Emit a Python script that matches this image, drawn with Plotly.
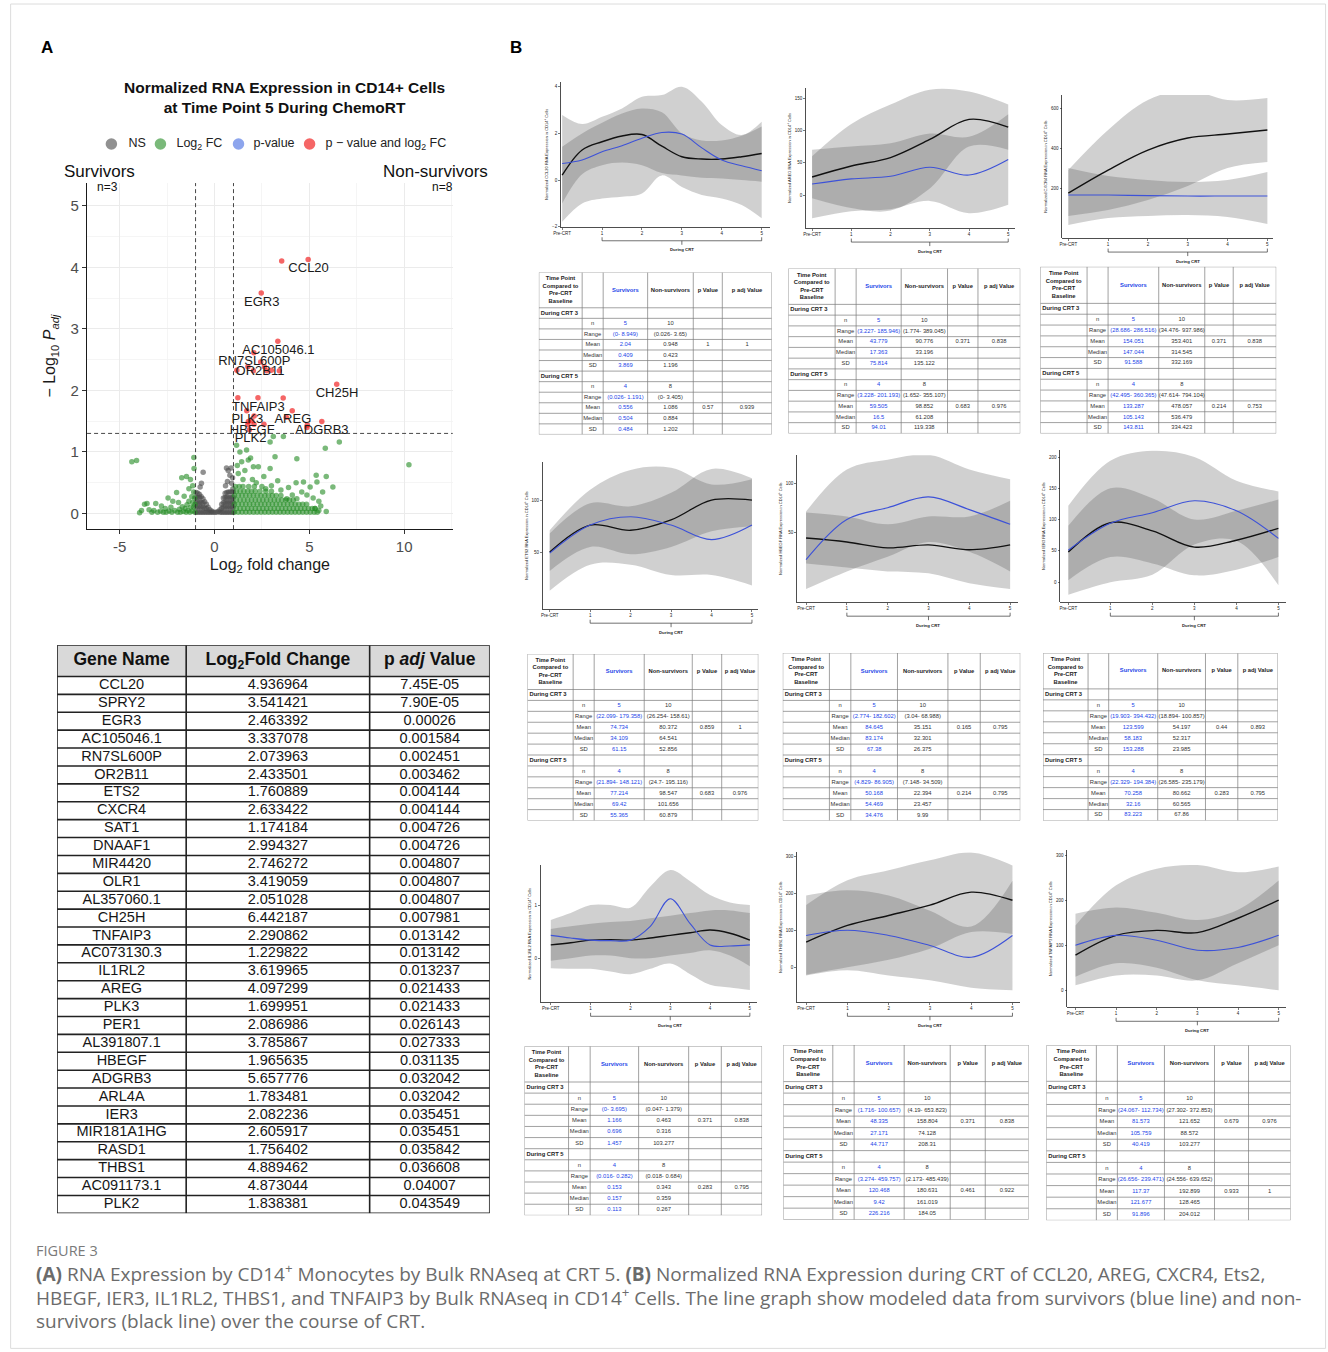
import math
import plotly.graph_objects as go

W, H = 1328, 1352
FONT = "Liberation Sans, Arial, Helvetica, sans-serif"
CAP_FONT = "Open Sans, Liberation Sans, Arial, sans-serif"

# ---------------- Panel A : significant genes (table + red points) ----------------
SIG_GENES = ["CCL20", "SPRY2", "EGR3", "AC105046.1", "RN7SL600P", "OR2B11", "ETS2", "CXCR4",
             "SAT1", "DNAAF1", "MIR4420", "OLR1", "AL357060.1", "CH25H", "TNFAIP3", "AC073130.3",
             "IL1RL2", "AREG", "PLK3", "PER1", "AL391807.1", "HBEGF", "ADGRB3", "ARL4A", "IER3",
             "MIR181A1HG", "RASD1", "THBS1", "AC091173.1", "PLK2"]
SIG_LOG2FC = [4.936964, 3.541421, 2.463392, 3.337078, 2.073963, 2.433501, 1.760889, 2.633422,
              1.174184, 2.994327, 2.746272, 3.419059, 2.051028, 6.442187, 2.290862, 1.229822,
              3.619965, 4.097299, 1.699951, 2.086986, 3.785867, 1.965635, 5.657776, 1.783481,
              2.082236, 2.605917, 1.756402, 4.889462, 4.873044, 1.838381]
SIG_PADJ = ["7.45E-05", "7.90E-05", "0.00026", "0.001584", "0.002451", "0.003462", "0.004144",
            "0.004144", "0.004726", "0.004726", "0.004807", "0.004807", "0.004807", "0.007981",
            "0.013142", "0.013142", "0.013237", "0.021433", "0.021433", "0.026143", "0.027333",
            "0.031135", "0.032042", "0.032042", "0.035451", "0.035451", "0.035842", "0.036608",
            "0.04007", "0.043549"]

LABEL_GENES = ["CCL20", "EGR3", "AC105046.1", "RN7SL600P", "OR2B11", "CH25H", "TNFAIP3",
               "PLK3", "AREG", "HBEGF", "ADGRB3", "PLK2"]
LABEL_X = [4.96, 2.49, 3.37, 2.10, 2.40, 6.46, 2.31, 1.73, 4.13, 1.99, 5.66, 1.90]
LABEL_Y = [3.97, 3.43, 2.64, 2.46, 2.30, 1.95, 1.72, 1.52, 1.52, 1.35, 1.34, 1.21]

LEGEND_LABELS = ["NS", "Log<sub>2</sub> FC", "p-value", "p \u2212 value and log<sub>2</sub> FC"]

# non-significant genes (grey)
NS_POINTS = [
    (-0.97, 0.02), (-0.97, 0.10), (-0.97, 0.18), (-0.97, 0.26), (-0.97, 0.34),
    (-0.88, 0.02), (-0.88, 0.10), (-0.88, 0.18), (-0.88, 0.26), (-0.88, 0.33),
    (-0.79, 0.02), (-0.79, 0.10), (-0.79, 0.18), (-0.79, 0.26), (-0.79, 0.31),
    (-0.70, 0.02), (-0.70, 0.10), (-0.70, 0.18), (-0.70, 0.27),
    (-0.61, 0.02), (-0.61, 0.10), (-0.61, 0.17), (-0.61, 0.24),
    (-0.52, 0.02), (-0.52, 0.09), (-0.52, 0.19),
    (-0.43, 0.02), (-0.43, 0.08), (-0.43, 0.15),
    (-0.34, 0.02), (-0.34, 0.10), (-0.25, 0.02), (-0.25, 0.06),
    (-0.16, 0.02), (-0.16, 0.04), (-0.07, 0.02), (0.02, 0.02), (0.11, 0.02), (0.20, 0.03),
    (0.29, 0.02), (0.29, 0.06), (0.38, 0.02), (0.38, 0.09), (0.38, 0.15),
    (0.47, 0.02), (0.47, 0.10), (0.47, 0.18), (0.47, 0.25),
    (0.56, 0.02), (0.56, 0.10), (0.56, 0.18), (0.56, 0.26), (0.56, 0.33),
    (0.65, 0.02), (0.65, 0.10), (0.65, 0.18), (0.65, 0.26), (0.65, 0.34),
    (0.74, 0.02), (0.74, 0.10), (0.74, 0.18), (0.74, 0.26), (0.74, 0.35),
    (0.83, 0.02), (0.83, 0.10), (0.83, 0.18), (0.83, 0.26), (0.83, 0.35),
    (0.92, 0.02), (0.92, 0.10), (0.92, 0.18), (0.92, 0.26), (0.92, 0.35),
    (0.99, 0.02), (0.99, 0.10), (0.99, 0.18), (0.99, 0.26), (0.99, 0.35),
    (-0.60, 0.67), (-0.69, 0.49), (-0.76, 0.43), (0.58, 0.45), (0.63, 0.74), (0.88, 0.74),
    (0.81, 0.62), (0.90, 0.49), (0.72, 0.70), (0.95, 0.58), (0.68, 0.52), (0.97, 0.40),
]

# genes passing only the fold-change cut-off (green)
FC_POINTS_LEFT = [
    (-4.36, 0.84), (-4.11, 0.86), (-3.95, 0.01), (-3.85, 0.05), (-3.69, 0.15), (-3.56, 0.16),
    (-3.45, 0.06), (-3.30, 0.02), (-3.20, 0.05), (-3.10, 0.16), (-3.00, 0.02), (-2.85, 0.04),
    (-2.80, 0.12), (-2.70, 0.02), (-2.60, 0.08), (-2.55, 0.02), (-2.45, 0.25), (-2.40, 0.04),
    (-2.30, 0.10), (-2.25, 0.02), (-2.20, 0.20), (-2.10, 0.05), (-2.00, 0.34), (-1.95, 0.02),
    (-1.90, 0.18), (-1.85, 0.07), (-1.80, 0.02), (-1.73, 0.58), (-1.70, 0.11), (-1.65, 0.03),
    (-1.60, 0.28), (-1.55, 0.08), (-1.50, 0.02), (-1.48, 0.60), (-1.45, 0.14), (-1.40, 0.05),
    (-1.35, 0.40), (-1.35, 0.20), (-1.30, 0.02), (-1.27, 0.55), (-1.25, 0.10), (-1.20, 0.27),
    (-1.18, 0.04), (-1.15, 0.45), (-1.15, 0.18), (-1.10, 0.35), (-1.10, 0.10), (-1.09, 0.91),
    (-1.08, 0.73), (-1.05, 0.25), (-1.04, 0.02), (-1.03, 0.15),
]
FC_BAND_ROWS = [
    (0.02, [1.05, 1.25, 1.45, 1.65, 1.85, 2.05, 2.25, 2.45, 2.65, 2.85, 3.05, 3.25, 3.45, 3.65,
            3.85, 4.05, 4.25, 4.45, 4.65, 4.85, 5.05, 5.25, 5.42]),
    (0.08, [1.15, 1.35, 1.55, 1.75, 1.95, 2.15, 2.35, 2.55, 2.75, 2.95, 3.15, 3.35, 3.55, 3.75,
            3.95, 4.15, 4.35, 4.55, 4.75, 4.95, 5.15, 5.30]),
    (0.15, [1.05, 1.25, 1.45, 1.65, 1.85, 2.05, 2.25, 2.45, 2.65, 2.85, 3.05, 3.25, 3.45, 3.65,
            3.85, 4.05, 4.25, 4.45, 4.65, 4.85]),
    (0.22, [1.15, 1.35, 1.55, 1.75, 1.95, 2.15, 2.35, 2.55, 2.75, 2.95, 3.15, 3.35, 3.55, 3.75,
            3.95, 4.15]),
    (0.29, [1.05, 1.25, 1.45, 1.65, 1.85, 2.05, 2.25, 2.45, 2.65, 2.85, 3.05, 3.25, 3.50]),
    (0.36, [1.15, 1.35, 1.55, 1.75, 1.95, 2.15, 2.40, 2.70, 3.00]),
    (0.44, [1.10, 1.30, 1.50, 1.80, 2.10, 2.50]),
]
FC_POINTS_RIGHT = [
    (1.34, 1.00), (1.69, 1.03), (1.16, 1.11), (3.10, 1.25), (3.63, 1.25), (2.93, 1.16),
    (3.19, 0.92), (4.34, 0.89), (5.84, 1.06), (6.58, 1.16), (10.25, 0.79), (6.24, 0.43),
    (5.89, 0.60), (5.36, 0.62), (5.89, 0.03), (5.04, 0.43), (4.87, 0.30), (2.93, 0.73),
    (2.31, 0.76), (2.05, 0.76), (1.78, 0.87), (1.43, 0.84), (3.33, 0.53), (3.81, 0.24),
    (4.34, 0.24), (4.69, 0.51), (5.40, 0.51), (5.70, 0.35), (1.60, 0.70), (1.25, 0.65),
    (2.00, 0.55), (2.60, 0.60), (1.90, 0.90), (1.50, 0.55), (2.20, 0.50), (3.00, 0.45),
    (3.50, 0.38), (4.10, 0.30), (4.60, 0.35), (5.20, 0.25), (5.60, 0.12), (5.50, 0.20),
    (2.70, 0.40), (1.20, 0.78), (4.30, 0.50), (3.90, 0.42), (5.30, 0.08), (5.50, 0.05),
]

# ---------------- Panel B : modelled expression curves ----------------
X11 = [0, 0.5, 1, 1.5, 2, 2.5, 3, 3.5, 4, 4.5, 5]
X6 = [0, 1, 2, 3, 4, 5]

CCL20_NS = [0.21, 1.29, 1.64, 1.89, 1.95, 1.45, 1.0, 0.9, 0.9, 1.0, 1.14]
CCL20_S = [0.71, 0.86, 1.21, 1.47, 1.79, 2.04, 1.97, 1.38, 0.86, 0.61, 0.40]
CCL20_NS_LO = [-1.0, 0.25, 0.64, 0.75, 0.64, 0.3, 0.2, 0.1, 0.07, 0.0, -0.07]
CCL20_NS_HI = [1.43, 2.0, 2.45, 2.85, 3.07, 2.9, 2.0, 1.7, 1.7, 1.9, 2.3]
CCL20_S_LO = [-1.79, -1.0, -0.79, -0.71, -0.57, 0.2, -0.3, -0.64, -0.79, -1.07, -1.64]
CCL20_S_HI = [2.79, 2.4, 2.71, 3.07, 3.57, 3.64, 4.0, 3.36, 2.36, 1.93, 2.5]

AREG_NS = [28, 45, 58, 86, 117, 105]
AREG_S = [17, 25, 29, 43, 31, 55]
AREG_NS_LO = [-5, -20, -24, 10, 75, 70]
AREG_NS_HI = [60, 110, 140, 163, 160, 140]
AREG_S_LO = [-36, -25, -22, -9, -28, -15]
AREG_S_HI = [70, 75, 80, 95, 90, 125]

CXCR4_NS = [175, 290, 390, 450, 470, 490]
CXCR4_S = [165, 165, 162, 160, 160, 160]
CXCR4_NS_LO = [60, 90, 140, 210, 300, 330]
CXCR4_NS_HI = [290, 490, 640, 690, 640, 650]
CXCR4_S_LO = [15, 50, 60, 65, 55, 20]
CXCR4_S_HI = [300, 260, 240, 230, 240, 280]

ETS2_NS = [50, 76, 71, 81, 100, 100]
ETS2_S = [49, 76, 84, 76, 62, 76]
ETS2_NS_LO = [32, 55, 48, 55, 70, 75]
ETS2_NS_HI = [68, 97, 94, 107, 130, 121]
ETS2_S_LO = [13, 38, 38, 28, 28, 18]
ETS2_S_HI = [71, 110, 129, 131, 115, 120]

HBEGF_NS = [44, 40, 34, 37, 32, 37]
HBEGF_S = [22, 63, 75, 86, 73, 58]
HBEGF_NS_LO = [18, 14, 10, 8, -2, -8]
HBEGF_NS_HI = [70, 66, 58, 66, 66, 82]
HBEGF_S_LO = [-8, 10, 25, 40, 30, 10]
HBEGF_S_HI = [71, 114, 124, 129, 114, 104]

IER3_NS = [48, 95, 82, 56, 67, 86]
IER3_S = [51, 94, 111, 130, 114, 70]
IER3_NS_LO = [3, 40, 30, 11, 20, 40]
IER3_NS_HI = [90, 150, 134, 100, 114, 132]
IER3_S_LO = [-20, 0, 12, 60, 66, -5]
IER3_S_HI = [122, 194, 210, 200, 162, 145]

IL1RL2_NS = [0.25, 0.29, 0.34, 0.35, 0.34, 0.38, 0.43, 0.48, 0.53, 0.47, 0.34]
IL1RL2_S = [0.43, 0.38, 0.34, 0.33, 0.34, 0.6, 1.12, 0.65, 0.25, 0.23, 0.25]
IL1RL2_NS_LO = [-0.05, 0.0, 0.05, 0.05, 0.0, 0.0, 0.05, 0.1, 0.15, 0.05, -0.15]
IL1RL2_NS_HI = [0.55, 0.6, 0.65, 0.68, 0.7, 0.75, 0.8, 0.85, 0.9, 0.9, 0.85]
IL1RL2_S_LO = [-0.19, -0.2, -0.2, -0.25, -0.3, -0.2, -0.1, -0.3, -0.5, -0.55, -0.6]
IL1RL2_S_HI = [0.72, 0.85, 1.0, 1.0, 0.95, 1.35, 1.66, 1.45, 1.19, 1.05, 1.0]

THBS1_NS = [68, 113, 140, 168, 203, 181]
THBS1_S = [86, 100, 86, 59, 27, 86]
THBS1_NS_LO = [-20, 0, 20, 50, 95, 90]
THBS1_NS_HI = [168, 235, 262, 289, 310, 275]
THBS1_S_LO = [-22, -8, -22, -35, -55, -62]
THBS1_S_HI = [194, 208, 194, 153, 110, 234]

TNFAIP3_NS = [78, 122, 133, 128, 160, 200]
TNFAIP3_S = [100, 122, 111, 89, 95, 122]
TNFAIP3_NS_LO = [11, 33, 33, 22, 60, 100]
TNFAIP3_NS_HI = [144, 233, 270, 278, 262, 275]
TNFAIP3_S_LO = [30, 60, 50, 22, 11, 0]
TNFAIP3_S_HI = [170, 184, 172, 156, 179, 244]

X_TICK_TEXT = ["Pre-CRT", "1", "2", "3", "4", "5"]

# ---------------- Panel B : statistics tables ----------------
# [n, range, mean, median, SD] for survivors (S) / non-survivors (N); P = [p, p adj]
CCL20_S3 = ["5", "(0- 8.949)", "2.04", "0.409", "3.869"]
CCL20_N3 = ["10", "(0.026- 3.65)", "0.948", "0.423", "1.196"]
CCL20_P3 = ["1", "1"]
CCL20_S5 = ["4", "(0.026- 1.191)", "0.556", "0.504", "0.484"]
CCL20_N5 = ["8", "(0- 3.405)", "1.086", "0.884", "1.202"]
CCL20_P5 = ["0.57", "0.939"]

AREG_S3 = ["5", "(3.227- 185.946)", "43.779", "17.363", "75.814"]
AREG_N3 = ["10", "(1.774- 389.045)", "90.776", "33.196", "135.122"]
AREG_P3 = ["0.371", "0.838"]
AREG_S5 = ["4", "(3.228- 201.193)", "59.505", "16.5", "94.01"]
AREG_N5 = ["8", "(1.652- 355.107)", "98.852", "61.208", "119.338"]
AREG_P5 = ["0.683", "0.976"]

CXCR4_S3 = ["5", "(28.686- 286.516)", "154.051", "147.044", "91.588"]
CXCR4_N3 = ["10", "(34.476- 937.986)", "353.401", "314.545", "332.169"]
CXCR4_P3 = ["0.371", "0.838"]
CXCR4_S5 = ["4", "(42.495- 360.365)", "133.287", "105.143", "143.811"]
CXCR4_N5 = ["8", "(47.614- 794.104)", "478.057", "536.479", "334.423"]
CXCR4_P5 = ["0.214", "0.753"]

ETS2_S3 = ["5", "(22.099- 179.358)", "74.734", "34.109", "61.15"]
ETS2_N3 = ["10", "(26.254- 158.61)", "80.372", "64.541", "52.856"]
ETS2_P3 = ["0.859", "1"]
ETS2_S5 = ["4", "(21.894- 148.121)", "77.214", "69.42", "55.365"]
ETS2_N5 = ["8", "(24.7- 195.116)", "98.547", "101.656", "60.879"]
ETS2_P5 = ["0.683", "0.976"]

HBEGF_S3 = ["5", "(2.774- 182.602)", "84.645", "83.174", "67.38"]
HBEGF_N3 = ["10", "(3.04- 68.988)", "35.151", "32.301", "26.375"]
HBEGF_P3 = ["0.165", "0.795"]
HBEGF_S5 = ["4", "(4.829- 86.905)", "50.168", "54.469", "34.476"]
HBEGF_N5 = ["8", "(7.148- 34.509)", "22.394", "23.457", "9.99"]
HBEGF_P5 = ["0.214", "0.795"]

IER3_S3 = ["5", "(19.903- 394.432)", "123.599", "58.183", "153.288"]
IER3_N3 = ["10", "(18.894- 100.857)", "54.197", "52.317", "23.985"]
IER3_P3 = ["0.44", "0.893"]
IER3_S5 = ["4", "(22.329- 194.384)", "70.258", "32.16", "83.223"]
IER3_N5 = ["8", "(26.585- 235.179)", "80.662", "60.565", "67.86"]
IER3_P5 = ["0.283", "0.795"]

IL1RL2_S3 = ["5", "(0- 3.695)", "1.166", "0.696", "1.457"]
IL1RL2_N3 = ["10", "(0.047- 1.379)", "0.463", "0.316", "103.277"]
IL1RL2_P3 = ["0.371", "0.838"]
IL1RL2_S5 = ["4", "(0.016- 0.282)", "0.153", "0.157", "0.113"]
IL1RL2_N5 = ["8", "(0.018- 0.684)", "0.343", "0.359", "0.267"]
IL1RL2_P5 = ["0.283", "0.795"]

THBS1_S3 = ["5", "(1.716- 100.657)", "48.335", "27.171", "44.717"]
THBS1_N3 = ["10", "(4.19- 653.823)", "158.804", "74.128", "208.31"]
THBS1_P3 = ["0.371", "0.838"]
THBS1_S5 = ["4", "(3.274- 459.757)", "120.468", "9.42", "226.216"]
THBS1_N5 = ["8", "(2.173- 485.439)", "180.631", "161.019", "184.05"]
THBS1_P5 = ["0.461", "0.922"]

TNFAIP3_S3 = ["5", "(24.067- 112.734)", "81.573", "105.759", "40.419"]
TNFAIP3_N3 = ["10", "(27.302- 372.853)", "121.652", "88.572", "103.277"]
TNFAIP3_P3 = ["0.679", "0.976"]
TNFAIP3_S5 = ["4", "(26.656- 239.471)", "117.37", "121.677", "91.896"]
TNFAIP3_N5 = ["8", "(24.556- 639.652)", "192.899", "128.465", "204.012"]
TNFAIP3_P5 = ["0.933", "1"]

STAT_ROW_LABELS = ["n", "Range", "Mean", "Median", "SD"]

# =====================================================================
fig = go.Figure()
axes = {}
shapes = []
annotations = []

# layout helpers: positions given in reference-picture pixels, mapped onto the page
OFFX, SX, SY = 8.7, 0.993, 0.9975


def fx(v):
    return (v - OFFX) / SX


def fy(v):
    return v / SY


def xd(a, b):
    return [max(0.0, fx(a) / W), min(1.0, fx(b) / W)]


def yd(top, bot):
    return [max(0.0, 1 - fy(bot) / H), min(1.0, 1 - fy(top) / H)]


def pxx(v):
    return fx(v) / W


def pxy(v):
    return 1 - fy(v) / H


def names(i):
    return ("x", "y") if i == 1 else (f"x{i}", f"y{i}")


def set_axes(i, xdom, ydom, xcfg, ycfg):
    xn, yn = names(i)
    axes["xaxis" if i == 1 else f"xaxis{i}"] = dict(xcfg, domain=xdom, anchor=yn)
    axes["yaxis" if i == 1 else f"yaxis{i}"] = dict(ycfg, domain=ydom, anchor=xn)


def note(text, x, y, size, color="#111", xanchor="center", family=None, **kw):
    f = dict(size=size, color=color)
    if family:
        f["family"] = family
    annotations.append(dict(text=text, x=pxx(x), y=pxy(y), xref="paper", yref="paper",
                            showarrow=False, xanchor=xanchor, yanchor="middle", font=f, **kw))


# ---------------- volcano plot ----------------
set_axes(
    1, xd(87.7, 453), yd(183, 529),
    dict(range=[-6.72, 12.56], tickvals=[-5, 0, 5, 10], ticktext=["-5", "0", "5", "10"],
         showgrid=True, gridcolor="#ebebeb", gridwidth=1,
         minor=dict(tickvals=[-2.5, 2.5, 7.5, 12.5], showgrid=True, gridcolor="#f3f3f3", gridwidth=0.8),
         zeroline=False, showline=True, linecolor="#1a1a1a", linewidth=1.3, ticks="outside",
         ticklen=4, tickcolor="#333", tickwidth=1, tickfont=dict(size=15, color="#4d4d4d"),
         title=dict(text="Log<sub>2</sub> fold change", font=dict(size=16, color="#1a1a1a"), standoff=4)),
    dict(range=[-0.255, 5.37], tickvals=[0, 1, 2, 3, 4, 5],
         showgrid=True, gridcolor="#ebebeb", gridwidth=1,
         minor=dict(tickvals=[0.5, 1.5, 2.5, 3.5, 4.5], showgrid=True, gridcolor="#f3f3f3", gridwidth=0.8),
         zeroline=False, showline=True, linecolor="#1a1a1a", linewidth=1.3, ticks="outside",
         ticklen=4, tickcolor="#333", tickwidth=1, tickfont=dict(size=15, color="#4d4d4d"),
         title=dict(text="\u2212 Log<sub>10</sub> <i>P</i><sub><i>adj</i></sub>",
                    font=dict(size=16, color="#1a1a1a"), standoff=10)),
)

fc_x = [p[0] for p in FC_POINTS_LEFT] + [x for y, xs in FC_BAND_ROWS for x in xs] + [p[0] for p in FC_POINTS_RIGHT]
fc_y = [p[1] for p in FC_POINTS_LEFT] + [y for y, xs in FC_BAND_ROWS for x in xs] + [p[1] for p in FC_POINTS_RIGHT]

COL_NS = "rgba(77,77,77,0.62)"
COL_FC = "rgba(34,139,34,0.6)"
COL_P = "rgba(65,105,225,0.6)"
COL_BOTH = "rgba(238,0,0,0.6)"

fig.add_trace(go.Scatter(x=[p[0] for p in NS_POINTS], y=[p[1] for p in NS_POINTS], mode="markers",
                         name="NS", marker=dict(size=5.5, color=COL_NS),
                         xaxis="x", yaxis="y", hoverinfo="skip"))
fig.add_trace(go.Scatter(x=fc_x, y=fc_y, mode="markers", name="Log2 FC",
                         marker=dict(size=5.5, color=COL_FC),
                         xaxis="x", yaxis="y", hoverinfo="skip"))
fig.add_trace(go.Scatter(x=SIG_LOG2FC, y=[-math.log10(float(p)) for p in SIG_PADJ], mode="markers",
                         name="p-value and log2 FC", marker=dict(size=5.5, color=COL_BOTH),
                         xaxis="x", yaxis="y", hoverinfo="skip"))
fig.add_trace(go.Scatter(x=LABEL_X, y=LABEL_Y, mode="text", text=LABEL_GENES,
                         textfont=dict(size=13, color="#1a1a1a", family=FONT),
                         textposition="middle center", xaxis="x", yaxis="y",
                         hoverinfo="skip", cliponaxis=False))

FC_CUT = 1.0
P_CUT = 0.05
for xv in (-FC_CUT, FC_CUT):
    shapes.append(dict(type="line", xref="x", yref="y domain", x0=xv, x1=xv, y0=0, y1=1,
                       line=dict(color="#333", width=0.9, dash="4px,3px")))
shapes.append(dict(type="line", xref="x domain", yref="y", x0=0, x1=1,
                   y0=-math.log10(P_CUT), y1=-math.log10(P_CUT),
                   line=dict(color="#333", width=0.9, dash="4px,3px")))

# legend key (drawn on its own hidden axis, in picture pixels)
LEG_I = 21
set_axes(LEG_I, xd(95, 460), yd(134, 154),
         dict(visible=False, range=[95, 460], fixedrange=True),
         dict(visible=False, range=[154, 134], fixedrange=True))
LEG_DOT_X = [112, 161, 239, 310]
LEG_TXT_X = [129, 177, 254, 326]
fig.add_trace(go.Scatter(x=LEG_DOT_X, y=[144] * 4, mode="markers",
                         marker=dict(size=11.5, color=[COL_NS, COL_FC, COL_P, COL_BOTH]),
                         xaxis=f"x{LEG_I}", yaxis=f"y{LEG_I}", hoverinfo="skip", cliponaxis=False))
fig.add_trace(go.Scatter(x=LEG_TXT_X, y=[144] * 4, mode="text", text=LEGEND_LABELS,
                         textposition="middle right", textfont=dict(size=12.5, color="#222", family=FONT),
                         xaxis=f"x{LEG_I}", yaxis=f"y{LEG_I}", hoverinfo="skip", cliponaxis=False))

note("<b>Normalized RNA Expression in CD14+ Cells</b><br><b>at Time Point 5 During ChemoRT</b>",
     285, 97, 15.5, align="center")
note("Survivors", 63, 171, 17, xanchor="left")
note("Non-survivors", 490, 171, 17, xanchor="right")
note("n=3", 108, 187, 12)
note("n=8", 443, 187, 12)
note("<b>A</b>", 48, 47, 17, "#000")
note("<b>B</b>", 516, 47, 17, "#000")

# ---------------- small line charts ----------------
BAND = "rgba(80,80,80,0.27)"
LINE_BLUE = "#3d52d8"

PANELS = [
    ("CCL20", (561, 770, 82, 226.7), [-0.033, 5.21], [-2, 4.2], [-2, 0, 2, 4], X11,
     CCL20_NS, CCL20_S, CCL20_NS_LO, CCL20_NS_HI, CCL20_S_LO, CCL20_S_HI),
    ("AREG", (806, 1015, 88, 228), [-0.153, 5.18], [-51, 165.5], [0, 50, 100, 150], X6,
     AREG_NS, AREG_S, AREG_NS_LO, AREG_NS_HI, AREG_S_LO, AREG_S_HI),
    ("CXCR4", (1062, 1272, 95, 238), [-0.15, 5.13], [-50, 665], [200, 400, 600], X6,
     CXCR4_NS, CXCR4_S, CXCR4_NS_LO, CXCR4_NS_HI, CXCR4_S_LO, CXCR4_S_HI),
    ("ETS2", (543, 758, 462, 609), [-0.17, 5.15], [-4.8, 136.5], [50, 100], X6,
     ETS2_NS, ETS2_S, ETS2_NS_LO, ETS2_NS_HI, ETS2_S_LO, ETS2_S_HI),
    ("HBEGF", (797, 1018, 455, 602), [-0.22, 5.2], [-21.4, 128.6], [50, 100], X6,
     HBEGF_NS, HBEGF_S, HBEGF_NS_LO, HBEGF_NS_HI, HBEGF_S_LO, HBEGF_S_HI),
    ("IER3", (1060, 1285, 450, 602), [-0.19, 5.17], [-32, 211], [0, 50, 100, 150, 200], X6,
     IER3_NS, IER3_S, IER3_NS_LO, IER3_NS_HI, IER3_S_LO, IER3_S_HI),
    ("IL1RL2", (541, 757, 865, 1002), [-0.25, 5.18], [-0.83, 1.75], [0, 1], X11,
     IL1RL2_NS, IL1RL2_S, IL1RL2_NS_LO, IL1RL2_NS_HI, IL1RL2_S_LO, IL1RL2_S_HI),
    ("THBS1", (797, 1020, 852, 1002), [-0.22, 5.19], [-94.6, 310.8], [0, 100, 200, 300], X6,
     THBS1_NS, THBS1_S, THBS1_NS_LO, THBS1_NS_HI, THBS1_S_LO, THBS1_S_HI),
    ("TNFAIP3", (1067, 1285, 850, 1007), [-0.2, 5.17], [-37.8, 311], [0, 100, 200, 300], X6,
     TNFAIP3_NS, TNFAIP3_S, TNFAIP3_NS_LO, TNFAIP3_NS_HI, TNFAIP3_S_LO, TNFAIP3_S_HI),
]

small_ax = dict(showline=True, linecolor="#222", linewidth=0.8, ticks="outside", ticklen=2,
                tickwidth=0.6, tickcolor="#222", tickfont=dict(size=4.5, color="#222"),
                showgrid=False, zeroline=False)

for k, (gene, box, xr, yr, yt, X, ns, s, ns_lo, ns_hi, s_lo, s_hi) in enumerate(PANELS):
    i = 2 + k
    xn, yn = names(i)
    x0, x1, ytop, ybot = box
    set_axes(i, xd(x0, x1), yd(ytop, ybot),
             dict(small_ax, range=xr, tickvals=list(range(6)), ticktext=X_TICK_TEXT),
             dict(small_ax, range=yr, tickvals=yt,
                  title=dict(text=f"Normalized {gene} RNA Expression in CD14<sup>+</sup> Cells",
                             font=dict(size=4, color="#222"), standoff=3)))
    for lo, hi in ((s_lo, s_hi), (ns_lo, ns_hi)):
        fig.add_trace(go.Scatter(x=X, y=lo, mode="lines", line=dict(width=0, shape="spline"),
                                 xaxis=xn, yaxis=yn, hoverinfo="skip"))
        fig.add_trace(go.Scatter(x=X, y=hi, mode="lines", line=dict(width=0, shape="spline"),
                                 fill="tonexty", fillcolor=BAND,
                                 xaxis=xn, yaxis=yn, hoverinfo="skip"))
    fig.add_trace(go.Scatter(x=X, y=ns, mode="lines", line=dict(color="#111", width=1.4, shape="spline"),
                             xaxis=xn, yaxis=yn, hoverinfo="skip"))
    fig.add_trace(go.Scatter(x=X, y=s, mode="lines", line=dict(color=LINE_BLUE, width=1.1, shape="spline"),
                             xaxis=xn, yaxis=yn, hoverinfo="skip"))
    # "During CRT" bracket under ticks 1..5
    yb = ybot + 14
    br = dict(color="#333", width=0.7)
    shapes.append(dict(type="line", xref=xn, yref="paper", x0=1, x1=5, y0=pxy(yb), y1=pxy(yb), line=br))
    shapes.append(dict(type="line", xref=xn, yref="paper", x0=1, x1=1, y0=pxy(yb), y1=pxy(yb - 3.5), line=br))
    shapes.append(dict(type="line", xref=xn, yref="paper", x0=5, x1=5, y0=pxy(yb), y1=pxy(yb - 3.5), line=br))
    shapes.append(dict(type="line", xref=xn, yref="paper", x0=3, x1=3, y0=pxy(yb), y1=pxy(yb + 4), line=br))
    annotations.append(dict(text="<b>During CRT</b>", x=3, xref=xn, y=pxy(yb + 9), yref="paper",
                            xanchor="center", yanchor="middle",
                            showarrow=False, font=dict(size=4.3, color="#222")))


# ---------------- tables ----------------
def add_table(i, cols, top, hbot, bot, header, header_colors, body, body_colors,
              fs, hfs, lc, lw, left_cols=(), header_fill=None):
    xn, yn = names(i)
    set_axes(i, xd(cols[0], cols[-1]), yd(top, bot),
             dict(visible=False, range=[cols[0], cols[-1]], fixedrange=True),
             dict(visible=False, range=[bot, top], fixedrange=True))
    n = len(body)
    rh = (bot - hbot) / n
    edges = [top, hbot] + [hbot + rh * (r + 1) for r in range(n)]
    if header_fill:
        shapes.append(dict(type="rect", xref=xn, yref=yn, x0=cols[0], x1=cols[-1], y0=top, y1=hbot,
                           fillcolor=header_fill, line=dict(width=0), layer="below"))
    gx, gy = [], []
    for e in edges:
        gx += [cols[0], cols[-1], None]
        gy += [e, e, None]
    for c in cols:
        gx += [c, c, None]
        gy += [top, bot, None]
    fig.add_trace(go.Scatter(x=gx, y=gy, mode="lines", line=dict(color=lc, width=lw),
                             xaxis=xn, yaxis=yn, hoverinfo="skip", cliponaxis=False))
    centers = [(cols[c] + cols[c + 1]) / 2 for c in range(len(cols) - 1)]
    tx, ty, tt, tc, tp, ts = [], [], [], [], [], []
    for c, h in enumerate(header):
        if h:
            tx.append(centers[c]); ty.append((top + hbot) / 2); tt.append(h)
            tc.append(header_colors[c]); tp.append("middle center"); ts.append(hfs)
    for r, row in enumerate(body):
        yc = hbot + rh * (r + 0.5)
        for c, v in enumerate(row):
            if v == "":
                continue
            if c in left_cols:
                tx.append(cols[c] + 2); tp.append("middle right")
            else:
                tx.append(centers[c]); tp.append("middle center")
            ty.append(yc); tt.append(v); tc.append(body_colors[c]); ts.append(fs)
    fig.add_trace(go.Scatter(x=tx, y=ty, mode="text", text=tt, textposition=tp,
                             textfont=dict(size=ts, color=tc, family=FONT),
                             xaxis=xn, yaxis=yn, hoverinfo="skip", cliponaxis=False))


# Table A
add_table(11, [57.7, 186.7, 370, 490], 645, 676.3, 1213,
          ["<b>Gene Name</b>", "<b>Log<sub>2</sub>Fold Change</b>", "<b>p <i>adj</i> Value</b>"],
          ["#111", "#111", "#111"],
          [[g, f"{v:.6f}", p] for g, v, p in zip(SIG_GENES, SIG_LOG2FC, SIG_PADJ)],
          ["#161616", "#161616", "#161616"], 14.5, 17.5, "#222", 1.6, header_fill="#d9d9d9")

BLUE_TXT = "#2446e8"
SMALL_HEADER = ["<b>Time Point</b><br><b>Compared to</b><br><b>Pre-CRT</b><br><b>Baseline</b>", "",
                "<b>Survivors</b>", "<b>Non-survivors</b>", "<b>p Value</b>", "<b>p adj Value</b>"]
SMALL_HEADER_COLORS = ["#222", "#222", BLUE_TXT, "#222", "#222", "#222"]
SMALL_BODY_COLORS = ["#222", "#333", BLUE_TXT, "#333", "#333", "#333"]


def stat_rows(s3, n3, p3, s5, n5, p5):
    rows = []
    for title, s, nn, p in (("<b>During CRT 3</b>", s3, n3, p3), ("<b>During CRT 5</b>", s5, n5, p5)):
        rows.append([title, "", "", "", "", ""])
        for j, lab in enumerate(STAT_ROW_LABELS):
            pv = p if lab == "Mean" else ["", ""]
            rows.append(["", lab, s[j], nn[j], pv[0], pv[1]])
    return rows


SMALL_TABLES = [
    ([539, 582.3, 603.3, 647.7, 693.3, 722.3, 771.7], 272.3, 307.7, 434.3,
     stat_rows(CCL20_S3, CCL20_N3, CCL20_P3, CCL20_S5, CCL20_N5, CCL20_P5)),
    ([788.3, 835, 856, 901, 947.3, 977.7, 1020], 268.3, 304.3, 433.3,
     stat_rows(AREG_S3, AREG_N3, AREG_P3, AREG_S5, AREG_N5, AREG_P5)),
    ([1040, 1086.7, 1107.7, 1158.3, 1204.3, 1232.7, 1275.7], 266.7, 303.3, 433.3,
     stat_rows(CXCR4_S3, CXCR4_N3, CXCR4_P3, CXCR4_S5, CXCR4_N5, CXCR4_P5)),
    ([527.7, 573.3, 594.3, 644.3, 692.3, 721.7, 758.3], 653.7, 689.3, 820.3,
     stat_rows(ETS2_S3, ETS2_N3, ETS2_P3, ETS2_S5, ETS2_N5, ETS2_P5)),
    ([782.7, 829.3, 850.7, 897.3, 947.7, 980, 1020], 652.7, 689.3, 820.3,
     stat_rows(HBEGF_S3, HBEGF_N3, HBEGF_P3, HBEGF_S5, HBEGF_N5, HBEGF_P5)),
    ([1042.7, 1087.7, 1108.3, 1157.3, 1205, 1237.3, 1277.3], 653, 688.7, 820.3,
     stat_rows(IER3_S3, IER3_N3, IER3_P3, IER3_S5, IER3_N5, IER3_P5)),
    ([524.7, 568.7, 590.3, 638.7, 688.7, 721.3, 762], 1046, 1081.7, 1215,
     stat_rows(IL1RL2_S3, IL1RL2_N3, IL1RL2_P3, IL1RL2_S5, IL1RL2_N5, IL1RL2_P5)),
    ([783.3, 832.7, 854, 904, 950, 985, 1028.3], 1044.7, 1081.3, 1219.3,
     stat_rows(THBS1_S3, THBS1_N3, THBS1_P3, THBS1_S5, THBS1_N5, THBS1_P5)),
    ([1046, 1096, 1117, 1164, 1214, 1248, 1290], 1045, 1081, 1220,
     stat_rows(TNFAIP3_S3, TNFAIP3_N3, TNFAIP3_P3, TNFAIP3_S5, TNFAIP3_N5, TNFAIP3_P5)),
]

for k, (cols, top, hbot, bot, rows) in enumerate(SMALL_TABLES):
    add_table(12 + k, cols, top, hbot, bot, SMALL_HEADER, SMALL_HEADER_COLORS, rows,
              SMALL_BODY_COLORS, 5.8, 5.8, "#7a7a7a", 0.7, left_cols=(0,))

# ---------------- caption ----------------
CAP_COLOR = "#6b6b6b"
CAP_SIZE = 19
note("FIGURE 3", 35, 1250, 14.5, "#7a7a7a", xanchor="left", family=CAP_FONT)
note("<b>(A)</b> RNA Expression by CD14<sup>+</sup> Monocytes by Bulk RNAseq at CRT 5. "
     "<b>(B)</b> Normalized RNA Expression during CRT of CCL20, AREG, CXCR4, Ets2,",
     35, 1273, CAP_SIZE, CAP_COLOR, xanchor="left", family=CAP_FONT)
note("HBEGF, IER3, IL1RL2, THBS1, and TNFAIP3 by Bulk RNAseq in CD14<sup>+</sup> Cells. "
     "The line graph show modeled data from survivors (blue line) and non-",
     35, 1297, CAP_SIZE, CAP_COLOR, xanchor="left", family=CAP_FONT)
note("survivors (black line) over the course of CRT.", 35, 1321, CAP_SIZE, CAP_COLOR, xanchor="left",
     family=CAP_FONT)

shapes.append(dict(type="rect", xref="paper", yref="paper", x0=0.002, x1=pxx(1325),
                   y0=pxy(1348), y1=pxy(4), line=dict(color="#dcdcdc", width=1), layer="below"))

fig.update_layout(
    width=W, height=H, autosize=False, margin=dict(l=0, r=0, t=0, b=0),
    paper_bgcolor="white", plot_bgcolor="white", hovermode=False,
    font=dict(family=FONT, color="#111"),
    showlegend=False,
    shapes=shapes, annotations=annotations,
    **axes,
)

fig.write_html(
    "out.html",
    config={"displayModeBar": False, "staticPlot": True},
    post_script="document.body.style.margin='0';"
                "document.body.style.overflow='hidden';"
                "document.documentElement.style.overflow='hidden';",
)
